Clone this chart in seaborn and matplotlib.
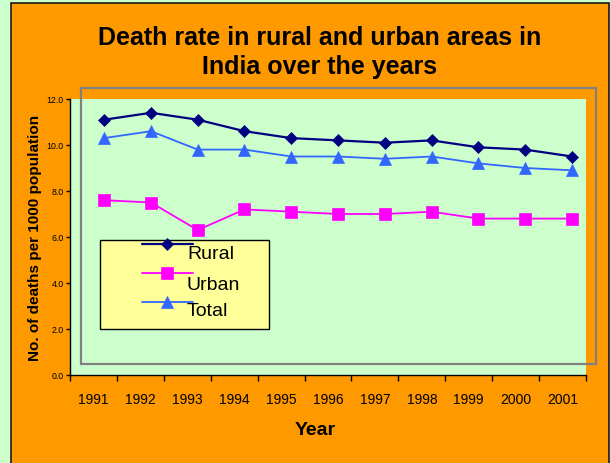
import numpy as np
import pandas as pd
import matplotlib
matplotlib.use("Agg")
import matplotlib.pyplot as plt
from matplotlib.patches import Rectangle
from matplotlib.lines import Line2D
import seaborn as sns

# ---- data ----
years = ["1991", "1992", "1993", "1994", "1995", "1996", "1997", "1998", "1999", "2000", "2001"]
rural = [11.1, 11.4, 11.1, 10.6, 10.3, 10.2, 10.1, 10.2, 9.9, 9.8, 9.5]
urban = [7.6, 7.5, 6.3, 7.2, 7.1, 7.0, 7.0, 7.1, 6.8, 6.8, 6.8]
total = [10.3, 10.6, 9.8, 9.8, 9.5, 9.5, 9.4, 9.5, 9.2, 9.0, 8.9]
series_names = ["Rural", "Urban", "Total"]
yticks = [0, 2, 4, 6, 8, 10, 12]

title = "Death rate in rural and urban areas in\nIndia over the years"
xlabel = "Year"
ylabel = "No. of deaths per 1000 population"

sns.set_style("white")
plt.rcParams["font.family"] = ["Liberation Sans", "DejaVu Sans"]
plt.rcParams.update({"text.color": "black", "axes.labelcolor": "black",
                     "xtick.color": "black", "ytick.color": "black"})

W, H = 610, 464
fig = plt.figure(figsize=(W / 100, H / 100), dpi=100)
fig.patch.set_facecolor("#CCFFCC")

def fx(px):
    return px / W

def fy(py):
    return 1 - py / H

# orange chart area with dark border
fig.patches.append(Rectangle((fx(11), fy(470)), fx(609) - fx(11), fy(4) - fy(470),
                             transform=fig.transFigure, facecolor="#FF9900",
                             edgecolor="#1a1a1a", linewidth=1.2, zorder=-5))

ax_l, ax_r, ax_t, ax_b = 70, 586, 100, 376
ax = fig.add_axes([fx(ax_l), fy(ax_b), fx(ax_r) - fx(ax_l), fy(ax_t) - fy(ax_b)])
ax.set_facecolor("#CCFFCC")

x = np.arange(len(years))
df = pd.DataFrame({"x": np.tile(x, 3),
                   "value": rural + urban + total,
                   "series": np.repeat(series_names, len(years))})

styles = {
    "Rural": dict(color="#000080", marker="D", markersize=6.3, linewidth=1.6),
    "Urban": dict(color="#FF00FF", marker="s", markersize=9, linewidth=1.3),
    "Total": dict(color="#3366FF", marker="^", markersize=9, linewidth=1.3),
}
for name in series_names:
    st = styles[name]
    sns.lineplot(data=df[df["series"] == name], x="x", y="value", ax=ax,
                 color=st["color"], marker=st["marker"], markersize=st["markersize"],
                 markeredgecolor=st["color"], markeredgewidth=0.5,
                 linewidth=st["linewidth"], legend=False, zorder=3)

# axes ranges and ticks
x0, x1 = -0.73, 10.30
ax.set_xlim(x0, x1)
ax.set_ylim(0, 12)
bounds = np.linspace(x0, x1, len(years) + 1)
centers = (bounds[:-1] + bounds[1:]) / 2
ax.set_xticks(bounds)
ax.set_xticklabels([])
ax.set_xticks(centers, minor=True)
ax.set_xticklabels(years, minor=True, fontsize=10)
ax.tick_params(axis="x", which="major", direction="out", length=4, width=1, color="black", bottom=True)
ax.tick_params(axis="x", which="minor", length=0, pad=12)
ax.set_yticks(yticks)
ax.set_yticklabels([f"{v:.1f}" for v in yticks], fontsize=6.3)
ax.tick_params(axis="y", direction="out", length=3, width=1, color="black", left=True, pad=1.5)

for s in ["top", "right"]:
    ax.spines[s].set_visible(False)
for s in ["left", "bottom"]:
    ax.spines[s].set_color("black")
    ax.spines[s].set_linewidth(1)

ax.set_xlabel(xlabel, fontsize=14, fontweight="bold")
ax.xaxis.set_label_coords((315 - ax_l) / (ax_r - ax_l), (ax_b - 422) / (ax_b - ax_t))
ax.set_ylabel(ylabel, fontsize=11, fontweight="bold")
ax.yaxis.set_label_coords((42 - ax_l) / (ax_r - ax_l), 0.5)

# gray plot-area frame
ax.add_patch(Rectangle((fx(81), fy(365)), fx(596) - fx(81), fy(89) - fy(365),
                       transform=fig.transFigure, clip_on=False, fill=False,
                       edgecolor="#808080", linewidth=1.6, zorder=1.5))

# title
fig.text(fx(320), fy(26), title, ha="center", va="top", fontsize=18,
         fontweight="bold", linespacing=1.24)

# legend (Excel-style, text below handles)
ax.add_patch(Rectangle((fx(100), fy(330)), fx(269) - fx(100), fy(241) - fy(330),
                       transform=fig.transFigure, clip_on=False, facecolor="#FFFF99",
                       edgecolor="black", linewidth=1, zorder=5))
handle_y = [245, 274, 303]
text_y = [255, 285, 312]
for name, hy, ty in zip(series_names, handle_y, text_y):
    st = styles[name]
    ax.add_line(Line2D([fx(142), fx(193)], [fy(hy), fy(hy)], transform=fig.transFigure,
                       color=st["color"], linewidth=st["linewidth"], clip_on=False, zorder=6))
    ax.add_line(Line2D([fx(167)], [fy(hy)], transform=fig.transFigure, color=st["color"],
                       marker=st["marker"], markersize=st["markersize"],
                       markeredgecolor=st["color"], markeredgewidth=0.5,
                       linestyle="none", clip_on=False, zorder=7))
    ax.text(fx(187), fy(ty), name, transform=fig.transFigure, fontsize=14,
            ha="left", va="center", zorder=8)

fig.savefig("out.png", dpi=100, facecolor=fig.get_facecolor())
